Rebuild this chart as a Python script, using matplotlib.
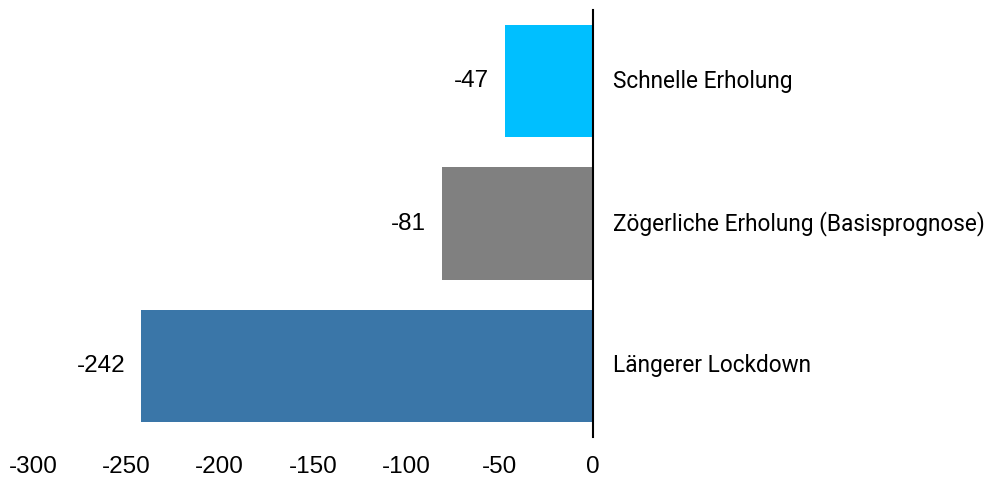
import matplotlib
matplotlib.use('Agg')
import matplotlib.pyplot as plt

categories = ['Längerer Lockdown', 'Zögerliche Erholung (Basisprognose)', 'Schnelle Erholung']
values = [-242, -81, -47]
colors = ['#3A76A8', '#808080', '#00BFFF']
xticks = [-300, -250, -200, -150, -100, -50, 0]

fig = plt.figure(figsize=(9.88, 4.78), dpi=100)
ax = fig.add_axes([0.0334, 0.0858, 0.5668, 0.893])

y = range(len(categories))
ax.barh(y, values, height=0.79, color=colors)
ax.set_ylim(-0.5, 2.5)
ax.set_xlim(-300, 0)

px = 300 / 560  # data units per pixel
for yi, v, name in zip(y, values, categories):
    ax.text(v - 16 * px, yi, str(v), ha='right', va='center',
            fontsize=17.5, family='Liberation Sans')
    ax.text(20 * px, yi, name, ha='left', va='center', fontsize=16.3,
            family='Roboto', clip_on=False)

ax.set_xticks(xticks)
ax.set_xticklabels([str(t) for t in xticks], fontsize=17.5, family='Liberation Sans')
ax.tick_params(axis='x', length=0, pad=14)
ax.set_yticks([])
for s in ['top', 'bottom', 'left']:
    ax.spines[s].set_visible(False)
ax.spines['right'].set_linewidth(1.5)
ax.spines['right'].set_color('black')

fig.savefig('out.png', dpi=100)
